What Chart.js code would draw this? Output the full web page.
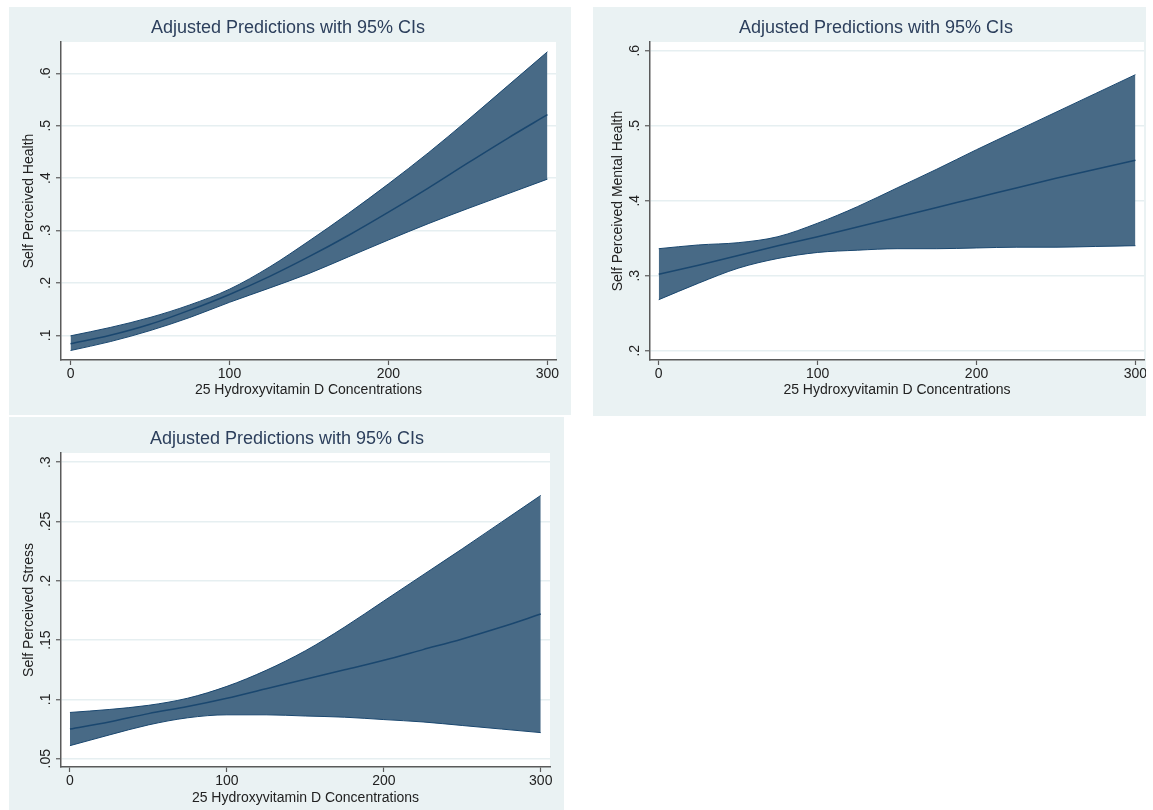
<!DOCTYPE html>
<html><head><meta charset="utf-8">
<script src="https://cdn.jsdelivr.net/npm/chart.js@4/dist/chart.umd.min.js"></script>
<style>
body{margin:0;background:#fff;width:1153px;height:810px;position:relative;overflow:hidden}
.panel{position:absolute;background:#eaf2f3}
canvas{display:block}
</style></head><body>
<div class="panel" style="left:9px;top:7px;width:562px;height:408px"><canvas id="c1" width="562" height="408"></canvas></div>
<div class="panel" style="left:593px;top:7px;width:553px;height:409px"><canvas id="c2" width="553" height="409"></canvas></div>
<div class="panel" style="left:9px;top:417px;width:555px;height:393px"><canvas id="c3" width="555" height="393"></canvas></div>
<script>
// ---- data ----
const vitaminD = [0, 25, 50, 75, 100, 125, 150, 175, 200, 225, 250, 275, 300];

const healthUpper = [0.099, 0.115, 0.134, 0.158, 0.188, 0.230, 0.280, 0.333, 0.389, 0.448, 0.511, 0.576, 0.641];
const healthMid   = [0.084, 0.100, 0.121, 0.148, 0.178, 0.212, 0.250, 0.291, 0.335, 0.381, 0.429, 0.476, 0.521];
const healthLower = [0.071, 0.088, 0.109, 0.134, 0.163, 0.190, 0.218, 0.250, 0.282, 0.313, 0.342, 0.370, 0.398];

const mentalUpper = [0.336, 0.341, 0.344, 0.352, 0.370, 0.392, 0.417, 0.442, 0.468, 0.493, 0.518, 0.543, 0.568];
const mentalMid   = [0.302, 0.314, 0.327, 0.340, 0.352, 0.365, 0.378, 0.391, 0.404, 0.417, 0.430, 0.442, 0.454];
const mentalLower = [0.268, 0.290, 0.310, 0.323, 0.331, 0.334, 0.336, 0.336, 0.337, 0.338, 0.338, 0.339, 0.340];

const stressUpper = [0.089, 0.0915, 0.095, 0.101, 0.111, 0.1245, 0.141, 0.161, 0.183, 0.205, 0.227, 0.2495, 0.272];
const stressMid   = [0.075, 0.081, 0.088, 0.094, 0.101, 0.109, 0.117, 0.125, 0.133, 0.142, 0.151, 0.161, 0.172];
const stressLower = [0.061, 0.070, 0.0785, 0.0845, 0.087, 0.087, 0.086, 0.085, 0.083, 0.081, 0.078, 0.075, 0.072];

const xTickValues = [0, 100, 200, 300];
const xTickLabels = ['0', '100', '200', '300'];
const healthYTicks = [0.1, 0.2, 0.3, 0.4, 0.5, 0.6];
const healthYLabels = ['.1', '.2', '.3', '.4', '.5', '.6'];
const mentalYTicks = [0.2, 0.3, 0.4, 0.5, 0.6];
const mentalYLabels = ['.2', '.3', '.4', '.5', '.6'];
const stressYTicks = [0.05, 0.1, 0.15, 0.2, 0.25, 0.3];
const stressYLabels = ['.05', '.1', '.15', '.2', '.25', '.3'];

const chartTitle = 'Adjusted Predictions with 95% CIs';
const xAxisTitle = '25 Hydroxyvitamin D Concentrations';

// ---- styles ----
const FONT = '"Liberation Sans", Arial, Helvetica, sans-serif';
const bandFill = 'rgb(72,106,134)';
const lineColor = '#1a476f';
const axisColor = '#5a5a5a';
const gridColor = '#e6eff1';

function pts(ys){ return vitaminD.map((x,i)=>({x:x, y:ys[i]})); }

function makeChart(id, cfg){
  const textPlugin = {
    id: 'txt',
    beforeDraw(chart){
      const {ctx, chartArea:a} = chart;
      ctx.save(); ctx.fillStyle = '#fff';
      ctx.fillRect(a.left, a.top, a.right - a.left, a.bottom - a.top);
      ctx.restore();
    },
    afterDraw(chart){
      const {ctx, chartArea:a, scales} = chart;
      const xs = scales.x, ys = scales.y;
      ctx.save();
      ctx.textAlign = 'center'; ctx.textBaseline = 'middle';
      ctx.fillStyle = '#2c3f5c';
      ctx.font = '18px ' + FONT;
      ctx.fillText(chartTitle, cfg.titleX, cfg.titleY);
      ctx.fillStyle = '#222';
      ctx.font = '14px ' + FONT;
      xTickValues.forEach((v,i)=>{
        ctx.fillText(xTickLabels[i], xs.getPixelForValue(v), a.bottom + 14);
      });
      ctx.fillText(xAxisTitle, (a.left + a.right)/2, cfg.xTitleY);
      cfg.yTicks.forEach((v,i)=>{
        ctx.save();
        ctx.translate(a.left - 15, ys.getPixelForValue(v));
        ctx.rotate(-Math.PI/2);
        ctx.fillText(cfg.yLabels[i], 0, 0);
        ctx.restore();
      });
      ctx.save();
      ctx.translate(a.left - 32, (a.top + a.bottom)/2);
      ctx.rotate(-Math.PI/2);
      ctx.fillText(cfg.yTitle, 0, 0);
      ctx.restore();
      ctx.restore();
    }
  };
  return new Chart(document.getElementById(id), {
    type: 'line',
    data: {
      datasets: [
        {data: pts(cfg.mid), borderColor: lineColor, borderWidth: 1.5, pointRadius: 0, fill: false, cubicInterpolationMode: 'monotone'},
        {data: pts(cfg.lower), borderColor: lineColor, borderWidth: 1, pointRadius: 0, fill: false, cubicInterpolationMode: 'monotone'},
        {data: pts(cfg.upper), borderColor: lineColor, borderWidth: 1, pointRadius: 0, fill: '-1', backgroundColor: bandFill, cubicInterpolationMode: 'monotone'}
      ]
    },
    options: {
      responsive: false, animation: false,
      layout: {padding: cfg.padding},
      plugins: {legend: {display: false}, tooltip: {enabled: false}, title: {display: false}},
      scales: {
        x: {
          type: 'linear', min: cfg.xMin, max: cfg.xMax,
          afterBuildTicks: s => { s.ticks = xTickValues.map(v => ({value: v})); },
          ticks: {display: false},
          grid: {drawOnChartArea: false, drawTicks: true, tickLength: 5, tickColor: axisColor, tickWidth: 1.2},
          border: {color: axisColor, width: 1.5}
        },
        y: {
          type: 'linear', min: cfg.yMin, max: cfg.yMax,
          afterBuildTicks: s => { s.ticks = cfg.yTicks.map(v => ({value: v})); },
          ticks: {display: false},
          grid: {color: gridColor, lineWidth: 1.5, drawTicks: true, tickLength: 5, tickColor: axisColor, tickWidth: 1.2},
          border: {color: axisColor, width: 1.5}
        }
      }
    },
    plugins: [textPlugin]
  });
}

makeChart('c1', {
  upper: healthUpper, mid: healthMid, lower: healthLower,
  yTicks: healthYTicks, yLabels: healthYLabels, yTitle: 'Self Perceived Health',
  padding: {left: 47, right: 15, top: 35, bottom: 50},
  xMin: -6, xMax: 305.4, yMin: 0.0529, yMax: 0.6597,
  titleX: 279, titleY: 21, xTitleY: 383
});
makeChart('c2', {
  upper: mentalUpper, mid: mentalMid, lower: mentalLower,
  yTicks: mentalYTicks, yLabels: mentalYLabels, yTitle: 'Self Perceived Mental Health',
  padding: {left: 52, right: 2, top: 35, bottom: 51},
  xMin: -5.5, xMax: 305.4, yMin: 0.1876, yMax: 0.6116,
  titleX: 283, titleY: 21, xTitleY: 383
});
makeChart('c3', {
  upper: stressUpper, mid: stressMid, lower: stressLower,
  yTicks: stressYTicks, yLabels: stressYLabels, yTitle: 'Self Perceived Stress',
  padding: {left: 47, right: 14, top: 36, bottom: 38},
  xMin: -5.7, xMax: 305.9, yMin: 0.043, yMax: 0.3078,
  titleX: 278, titleY: 22, xTitleY: 381
});
</script>
</body></html>
